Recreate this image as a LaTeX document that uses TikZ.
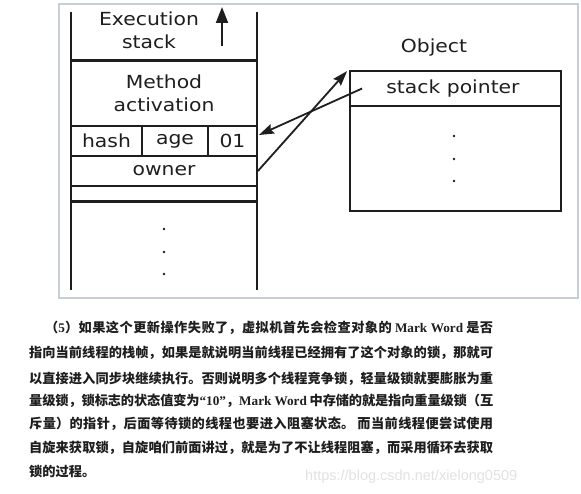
\documentclass[tikz,border=0pt]{standalone}
\usepackage{fontspec}
\usepackage{graphicx}
\newfontfamily\dsans{DejaVu Sans}
\newfontfamily\cjk{Noto Sans CJK SC}
\newfontfamily\lserif{Liberation Serif}
\newfontfamily\wmfont{Liberation Sans}
\usetikzlibrary{arrows.meta,calc}
\definecolor{ink}{HTML}{1E1E1E}
\definecolor{framec}{HTML}{C8CED8}
\definecolor{wmc}{HTML}{E2E2E2}
\newcommand{\lat}[1]{{\lserif\bfseries #1}}
\newcommand{\wide}[1]{\scalebox{1.13}[1]{#1}}
\newcommand{\jline}[2]{\parbox[b]{#1}{\XeTeXlinebreaklocale "zh"\XeTeXlinebreakskip=0pt plus 3pt minus 0.5pt\parfillskip=0pt\noindent #2\par}}
\tikzset{
  lbl/.style={font=\dsans\fontsize{18}{23}\selectfont, text=ink, inner sep=0pt, align=center},
  cell/.style={draw=ink, line width=1.8pt, inner sep=0pt, font=\dsans\fontsize{18}{23}\selectfont, text=ink, align=center},
  wire/.style={draw=ink, line width=1.8pt},
  ptr/.style={draw=ink, line width=1.8pt, -{Stealth[length=15pt,width=10pt,inset=2pt]}},
  dotm/.style={circle, fill=ink, inner sep=0pt, minimum size=2.8pt},
  cnline/.style={anchor=base west, inner sep=0pt,
    font=\cjk\bfseries\fontsize{13.2}{24}\selectfont, text=ink},
}
\begin{document}
\begin{tikzpicture}[x=1pt,y=-1pt]
\useasboundingbox (0,0) rectangle (581,494);
\fill[white] (0,0) rectangle (581,494);
\draw[framec, line width=1.3pt] (59,4) rectangle (578,298);

% execution stack
\node[lbl] (exec) at (149,30) {\wide{Execution}\\\wide{stack}};
\coordinate (upA) at (222,46);
\coordinate (upB) at (222,7);
\draw[draw=ink, line width=2pt, -{Triangle[length=16pt,width=12pt]}] (upA) -- (upB);
\coordinate (sl1) at (71,12);
\coordinate (sl2) at (71,290);
\coordinate (sr1) at (257,12);
\coordinate (sr2) at (257,290);
\draw[wire] (sl1) -- (sl2);
\draw[wire] (sr1) -- (sr2);

\node[cell, minimum width=186pt, minimum height=65pt] (meth) at (164,93.5) {\wide{Method}\\\wide{activation}};
\node[cell, minimum width=71pt, minimum height=30pt] (hash) at (106.5,141) {\wide{hash}};
\node[cell, minimum width=66pt, minimum height=30pt] (age) at (175,141) {\wide{age}};
\node[cell, minimum width=49pt, minimum height=30pt] (c01) at (232.5,141) {\wide{01}};
\node[cell, minimum width=186pt, minimum height=30pt] (owner) at (164,171) {\wide{owner}};
\node[cell, minimum width=186pt, minimum height=15pt] (empty) at (164,193.5) {};
\draw[wire, line width=2.6pt] (meth.north west) -- (meth.north east);
\draw[wire, line width=2.6pt] (empty.south west) -- (empty.south east);

\node[dotm] (sd1) at (164,229) {};
\node[dotm] (sd2) at (164,252) {};
\node[dotm] (sd3) at (164,274) {};

% object
\node[lbl] (objlbl) at (434,48) {\wide{Object}};
\node[cell, minimum width=211pt, minimum height=35pt] (sp) at (455.5,88.5) {\hspace*{-5pt}\wide{stack pointer}};
\node[cell, minimum width=211pt, minimum height=105pt] (body) at (455.5,158.5) {};
\node[dotm] (od1) at (454,136) {};
\node[dotm] (od2) at (454,159) {};
\node[dotm] (od3) at (454,181) {};

% pointers
\draw[ptr] (owner.east) -- ($(sp.north west)+(-2,1)$);
\draw[ptr] ($(sp.west)+(13,0)$) -- ($(c01.east)+(1,-6)$);

% paragraph
\node[cnline] (t1) at (45,332) {\jline{448pt}{（\lat{5}）如果这个更新操作失败了，虚拟机首先会检查对象的 \lat{Mark Word} 是否}};
\node[cnline] (t2) at (29,357) {\jline{464pt}{指向当前线程的栈帧，如果是就说明当前线程已经拥有了这个对象的锁，那就可}};
\node[cnline] (t3) at (29,383) {\jline{464pt}{以直接进入同步块继续执行。否则说明多个线程竞争锁，轻量级锁就要膨胀为重}};
\node[cnline] (t4) at (29,405) {\jline{464pt}{量级锁，锁标志的状态值变为\lat{“10”}，\lat{Mark Word} 中存储的就是指向重量级锁（互}};
\node[cnline] (t5) at (29,428) {\jline{464pt}{斥量）的指针，后面等待锁的线程也要进入阻塞状态。 而当前线程便尝试使用}};
\node[cnline] (t6) at (29,452) {\jline{464pt}{自旋来获取锁，自旋咱们前面讲过，就是为了不让线程阻塞，而采用循环去获取}};
\node[cnline] (t7) at (29,476) {锁的过程。};
\node[anchor=base west, inner sep=0pt, text=wmc, font=\wmfont\fontsize{14.5}{16}\selectfont] (wm) at (305,480) {https://blog.csdn.net/xielong0509};
\end{tikzpicture}
\end{document}
